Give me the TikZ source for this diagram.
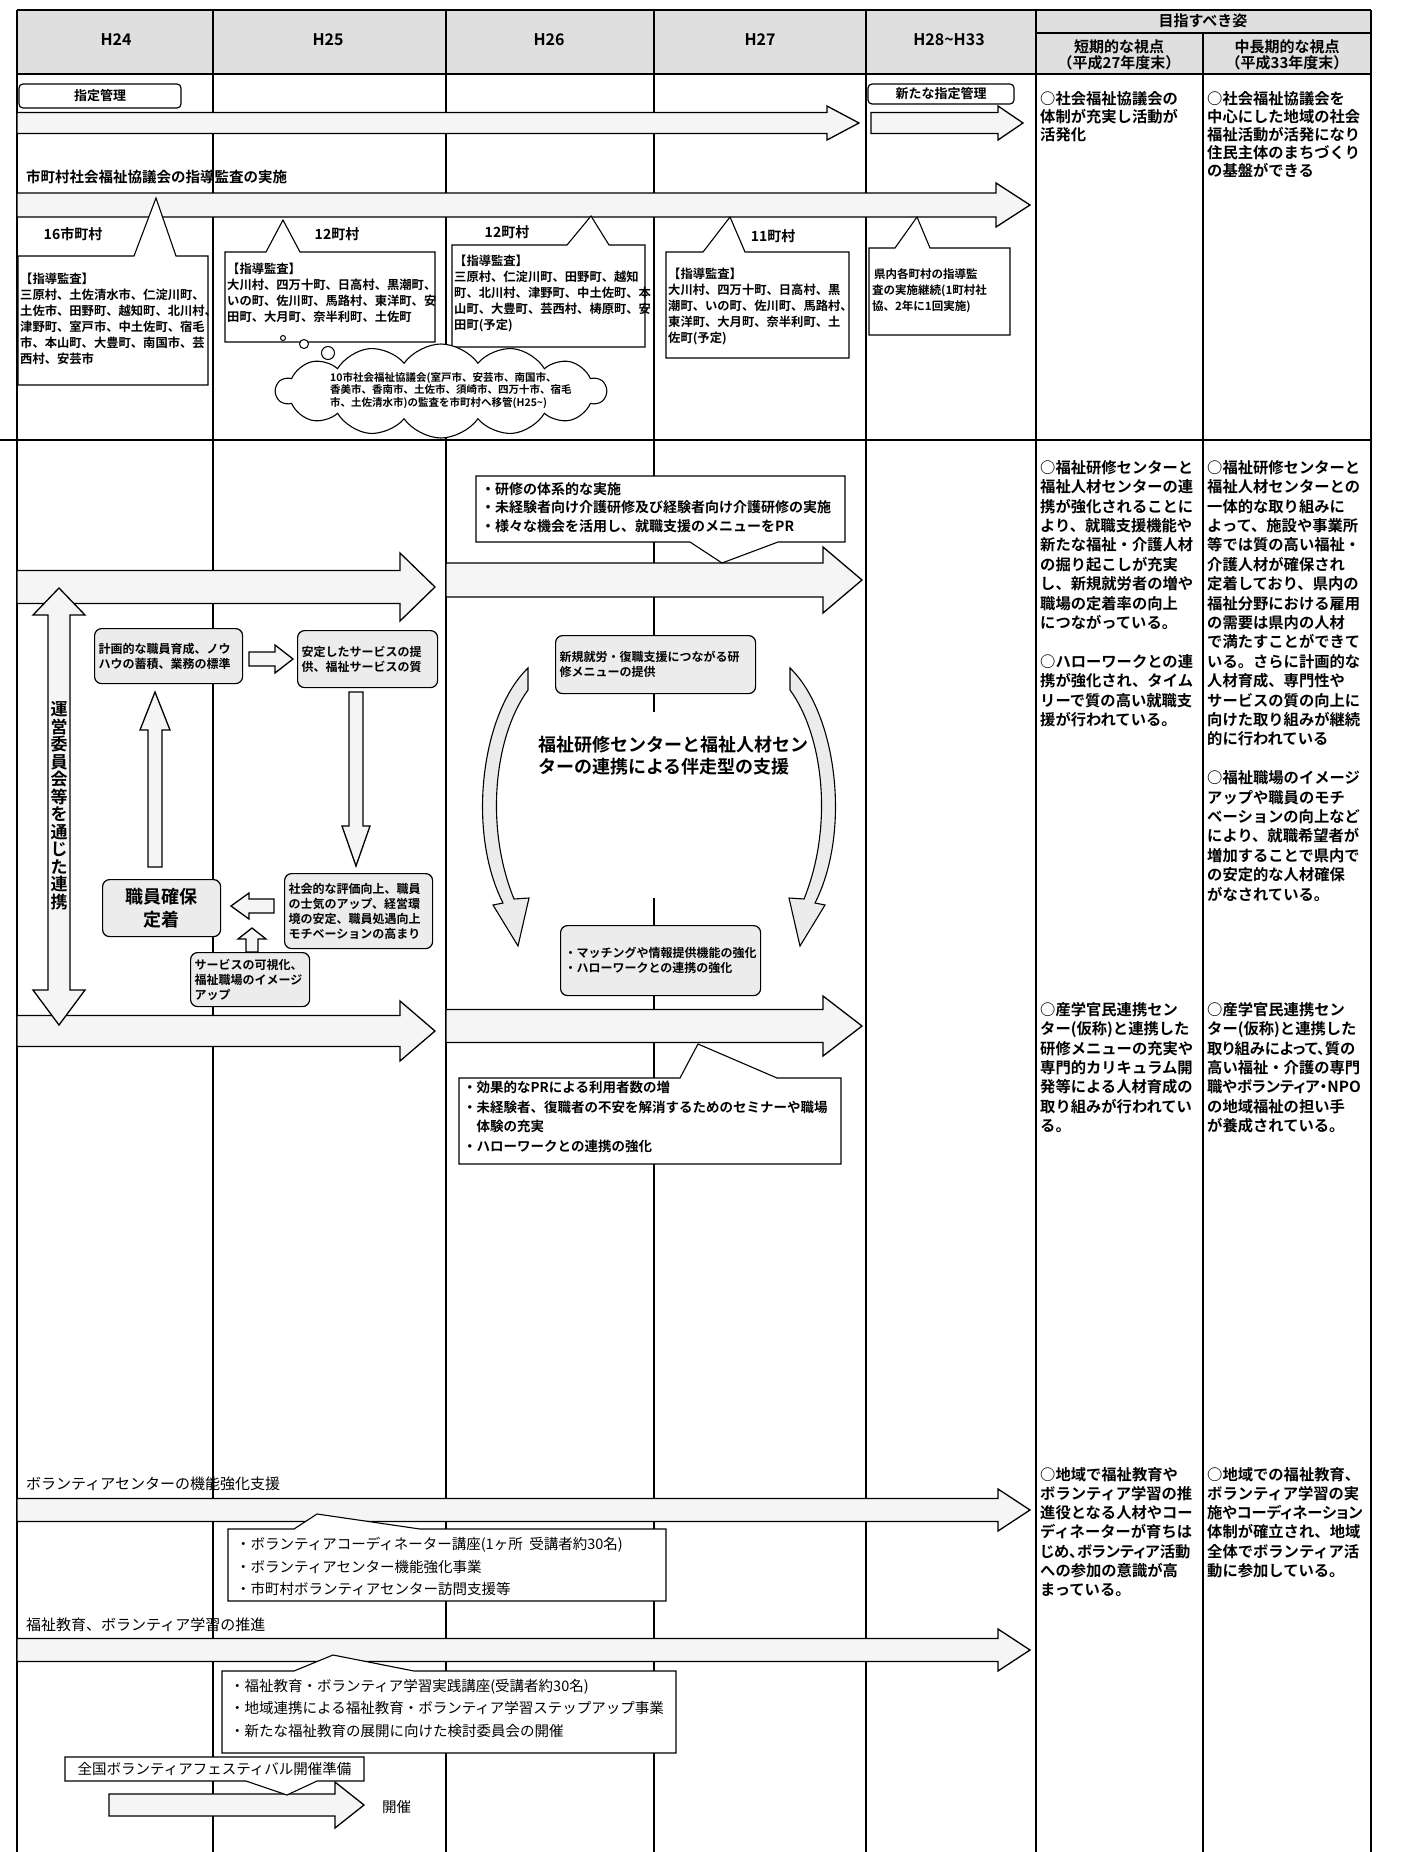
\documentclass[tikz,border=0pt]{standalone}
\usepackage{fontspec}
\setmainfont{Noto Sans CJK JP}[BoldFont={Noto Sans CJK JP Bold}]
\usetikzlibrary{shapes.symbols}
\newcommand\fs[2]{\fontsize{#1}{#2}\selectfont}
\newcommand\nar[1]{{\addfontfeature{RawFeature=+palt}#1}}
% horizontal block arrow: x-start, x-headbase, x-tip, y-centre, body half, head half
\newcommand\bkR[6]{\draw[barrow] ({#1},{#4-#5}) -- ({#2},{#4-#5}) -- ({#2},{#4-#6}) -- ({#3},{#4}) -- ({#2},{#4+#6}) -- ({#2},{#4+#5}) -- ({#1},{#4+#5}) -- cycle;}
% vertical block arrow: y-start, y-headbase, y-tip, x-centre, body half, head half
\newcommand\bkV[6]{\draw[barrow] ({#4-#5},{#1}) -- ({#4-#5},{#2}) -- ({#4-#6},{#2}) -- ({#4},{#3}) -- ({#4+#6},{#2}) -- ({#4+#5},{#2}) -- ({#4+#5},{#1}) -- cycle;}
% callout with pointer on top / bottom: x1,y1,x2,y2, base1, tipx, tipy, base2
\newcommand\coT[8]{\draw[callout] ({#1},{#2}) -- ({#5},{#2}) -- ({#6},{#7}) -- ({#8},{#2}) -- ({#3},{#2}) -- ({#3},{#4}) -- ({#1},{#4}) -- cycle;}
\newcommand\coB[8]{\draw[callout] ({#1},{#2}) -- ({#3},{#2}) -- ({#3},{#4}) -- ({#8},{#4}) -- ({#6},{#7}) -- ({#5},{#4}) -- ({#1},{#4}) -- cycle;}
\tikzset{
  tline/.style={line width=1.1pt},
  tborder/.style={line width=2pt},
  barrow/.style={draw, line width=1.3pt, fill=gray!8, line join=miter},
  callout/.style={draw, line width=1.1pt, fill=white, line join=miter},
  rbox/.style={draw, line width=1.2pt, rounded corners=7pt, fill=gray!15, anchor=north west, align=left, inner sep=4pt, font={\fs{12}{15}\bfseries}},
  txt/.style={anchor=north west, align=left, inner sep=0pt},
  hdr/.style={inner sep=0pt, font={\fs{16}{17}\bfseries}, align=center},
  goal/.style={txt, font={\fs{15.3}{19.4}\bfseries}},
  ctxt/.style={txt, font={\fs{12.3}{16}\bfseries}},
  lbl/.style={inner sep=0pt, font={\fs{14}{16}\bfseries}},
  thin/.style={txt, font={\fs{14.5}{22.5}}},
}
\begin{document}
\begin{tikzpicture}[x=1pt,y=-1pt]
\useasboundingbox (0,0) rectangle (1406,1852);
\fill[white] (0,0) rectangle (1406,1852);
% ---------------- table ----------------
\fill[gray!25] (17,10) rectangle (1371,74);
\foreach \xx in {213,446,654,866} {\draw[tline] (\xx,10) -- (\xx,1852);}
\draw[tline] (1203,33) -- (1203,1852);
\draw[tborder] (1036,10) -- (1036,1852);
\draw[tborder] (17,10) -- (17,1852);
\draw[tborder] (1371,10) -- (1371,1852);
\draw[tborder] (17,10) -- (1371,10);
\draw[tline] (1036,33) -- (1371,33);
\draw[tborder] (17,74) -- (1371,74);
\draw[tline] (0,440) -- (1371,440);
% header
\node[hdr] (h24) at (116,40) {H24};
\node[hdr] (h25) at (328,40) {H25};
\node[hdr] (h26) at (549,40) {H26};
\node[hdr] (h27) at (760,40) {H27};
\node[hdr] (h28) at (949,40) {H28{\char"7E}H33};
\node[hdr, font={\fs{15}{17}\bfseries}] (goalh) at (1203,21) {目指すべき姿};
\node[hdr, font={\fs{15}{16.5}\bfseries}] (shortv) at (1119,55) {短期的な視点\\（平成27年度末）};
\node[hdr, font={\fs{15}{16.5}\bfseries}] (longv) at (1287,55) {中長期的な視点\\（平成33年度末）};
% ---------------- section 1 ----------------
\node[draw, line width=1.2pt, rounded corners=4pt, minimum width=162pt, minimum height=24pt, inner sep=0pt, font={\fs{13}{15}\bfseries}] (shitei) at (100,96) {指定管理};
\node[draw, line width=1.2pt, rounded corners=4pt, minimum width=146pt, minimum height=20pt, inner sep=0pt, font={\fs{13}{15}\bfseries}] (shitei2) at (941,94) {新たな指定管理};
\bkR{17}{827}{859}{123}{10.5}{17}
\bkR{871}{998}{1023}{123}{10.5}{17}
\node[lbl, anchor=west, font={\fs{14.5}{16}\bfseries}] (kansa) at (26,177) {市町村社会福祉協議会の指導監査の実施};
\bkR{17}{996}{1030}{205}{12}{22}
% callouts
\coT{18}{256}{208}{385}{134}{156}{198}{176}
\coT{225}{252}{435}{342}{266}{283}{220}{300}
\coT{452}{245}{645}{347}{567}{591}{216}{609}
\coT{666}{252}{849}{358}{703}{730}{217}{745}
\coT{869}{248}{1010}{335}{895}{917}{217}{930}
\node[lbl] (n16) at (73,234) {16市町村};
\node[lbl] (n12a) at (337,234) {12町村};
\node[lbl] (n12b) at (507,232) {12町村};
\node[lbl] (n11) at (773,236) {11町村};
\node[ctxt] (c1t) at (20,273) {【指導監査】\\三原村、土佐清水市、仁淀川町、\\土佐市、田野町、越知町、北川村、\\津野町、室戸市、中土佐町、宿毛\\市、本山町、大豊町、南国市、芸\\西村、安芸市};
\node[ctxt] (c2t) at (227,263) {【指導監査】\\大川村、四万十町、日高村、黒潮町、\\いの町、佐川町、馬路村、東洋町、安\\田町、大月町、奈半利町、土佐町};
\node[ctxt] (c3t) at (454,255) {【指導監査】\\三原村、仁淀川町、田野町、越知\\町、北川村、津野町、中土佐町、本\\山町、大豊町、芸西村、梼原町、安\\田町(予定)};
\node[ctxt] (c4t) at (668,268) {【指導監査】\\大川村、四万十町、日高村、黒\\潮町、いの町、佐川町、馬路村、\\東洋町、大月町、奈半利町、土\\佐町(予定)};
\node[ctxt, font={\fs{11.5}{16}\bfseries}] (c5t) at (872,268) {\,県内各町村の指導監\\査の実施継続(1町村社\\協、2年に1回実施)};
% thought bubble + cloud
\draw[line width=1pt, fill=white] (283,338) circle (2.5pt);
\draw[line width=1pt, fill=white] (304,344) circle (4.5pt);
\draw[line width=1pt, fill=white] (328,353) circle (6.5pt);
\node[cloud, draw, line width=1.1pt, fill=white, cloud puffs=14, cloud puff arc=110, aspect=3.6, minimum width=330pt, minimum height=94pt, inner sep=0pt] (cloud) at (441,391) {};
\node[txt, font={\fs{10.5}{12.8}\bfseries}] (cloudt) at (330,372) {10市社会福祉協議会(室戸市、安芸市、南国市、\\香美市、香南市、土佐市、須崎市、四万十市、宿毛\\市、土佐清水市)の監査を市町村へ移管(H25{\char"7E})};
% goals section 1
\node[goal, font={\fs{15.3}{18}\bfseries}] (g1s) at (1040,91) {○社会福祉協議会の\\体制が充実し活動が\\活発化};
\node[goal, font={\fs{15.3}{18}\bfseries}] (g1l) at (1207,91) {○社会福祉協議会を\\中心にした地域の社会\\福祉活動が活発になり\\住民主体のまちづくり\\の基盤ができる};
% ---------------- section 2 ----------------
\bkR{17}{400}{435}{587}{16.5}{34}
\bkR{446}{823}{862}{580}{17}{33}
\bkR{17}{400}{435}{1031}{15.5}{30}
\bkR{446}{823}{862}{1026}{16.5}{30}
\coB{476}{476}{845}{542}{690}{722}{563}{778}
\node[txt, font={\fs{14}{18.5}\bfseries}] (kenshu) at (481,482) {・研修の体系的な実施\\・未経験者向け介護研修及び経験者向け介護研修の実施\\・様々な機会を活用し、就職支援のメニューをPR};
\coT{459}{1078}{841}{1164}{680}{698}{1044}{777}
\node[txt, font={\fs{13.5}{19.5}\bfseries}] (koka) at (463,1081) {・効果的なPRによる利用者数の増\\・未経験者、復職者の不安を解消するためのセミナーや職場\\　体験の充実\\・ハローワークとの連携の強化};
% left cycle
\node[rbox, text width=140pt, minimum height=55pt] (keikaku) at (94,628) {計画的な職員育成、ノウ\\ハウの蓄積、業務の標準};
\node[rbox, text width=132pt, minimum height=57pt] (antei) at (297,630) {安定したサービスの提\\供、福祉サービスの質};
\bkR{249}{275}{293}{659}{7}{14}
\bkV{692}{826}{866}{356}{7}{14}
\bkV{867}{730}{692}{155}{7}{15}
\node[rbox, text width=110pt, minimum height=57pt, align=center, font={\fs{18}{23}\bfseries}] (kakuho) at (102,879) {職員確保\\定着};
\node[rbox, text width=140pt, minimum height=75pt] (shakai) at (284,873) {社会的な評価向上、職員\\の士気のアップ、経営環\\境の安定、職員処遇向上\\モチベーションの高まり};
\bkR{274}{249}{231}{906}{7}{13}
\bkV{952}{939}{928}{252}{6}{14}
\node[rbox, text width=111pt, minimum height=54pt] (kashika) at (190,952) {サービスの可視化、\\福祉職場のイメージ\\アップ};
% vertical double arrow
\draw[barrow] (48,615) -- (33,615) -- (59,588) -- (85,615) -- (70,615) -- (70,990) -- (85,990) -- (59,1025) -- (33,990) -- (48,990) -- cycle;
\node[inner sep=0pt, align=center, font={\fs{17}{17.5}\bfseries}] (unei) at (59,806) {運\\営\\委\\員\\会\\等\\を\\通\\じ\\た\\連\\携};
% right cycle
\fill[white] (528,712) rectangle (790,898);
\node[rbox, text width=192pt, minimum height=58pt] (shinki) at (555,635) {新規就労・復職支援につながる研\\修メニューの提供};
\node[rbox, text width=192pt, minimum height=70pt] (matching) at (560,925) {・マッチングや情報提供機能の強化\\・ハローワークとの連携の強化};
\node[txt, font={\fs{18}{22}\bfseries}] (renkei) at (538,736) {福祉研修センターと福祉人材セン\\ターの連携による伴走型の支援};
\draw[barrow, fill=gray!15, line width=1.1pt] (528,668) .. controls (482,712) and (466,830) .. (503,903) -- (493,905) -- (518,946) -- (529,898) -- (514,899) .. controls (484,825) and (495,735) .. (528,690) -- cycle;
\draw[barrow, fill=gray!15, line width=1.1pt] (790,668) .. controls (836,712) and (852,830) .. (815,903) -- (825,905) -- (800,946) -- (789,898) -- (804,899) .. controls (834,825) and (823,735) .. (790,690) -- cycle;
% goals section 2
\node[goal] (g2s) at (1040,460) {○福祉研修センターと\\福祉人材センターの連\\携が強化されることに\\より、就職支援機能や\\新たな福祉・介護人材\\の掘り起こしが充実\\し、新規就労者の増や\\職場の定着率の向上\\につながっている。\\[19.4pt]○ハローワークとの連\\携が強化され、タイム\\リーで質の高い就職支\\援が行われている。};
\node[goal] (g2l) at (1207,460) {○福祉研修センターと\\福祉人材センターとの\\一体的な取り組みに\\よって、施設や事業所\\等では質の高い福祉・\\介護人材が確保され\\定着しており、県内の\\福祉分野における雇用\\の需要は県内の人材\\で満たすことができて\\いる。さらに計画的な\\人材育成、専門性や\\サービスの質の向上に\\向けた取り組みが継続\\的に行われている\\[19.4pt]○福祉職場のイメージ\\アップや職員のモチ\\ベーションの向上など\\により、就職希望者が\\増加することで県内で\\の安定的な人材確保\\がなされている。};
\node[goal] (g3s) at (1040,1002) {○産学官民連携セン\\ター(仮称)と連携した\\研修メニューの充実や\\専門的カリキュラム開\\発等による人材育成の\\取り組みが行われてい\\る。};
\node[goal] (g3l) at (1207,1002) {○産学官民連携セン\\ター(仮称)と連携した\\\nar{取り組みによって、質の}\\高い福祉・介護の専門\\\nar{職やボランティア・NPO}\\の地域福祉の担い手\\が養成されている。};
% ---------------- section 3 ----------------
\node[inner sep=0pt, anchor=west, font={\fs{15}{16}}] (vlbl1) at (26,1484) {ボランティアセンターの機能強化支援};
\bkR{17}{998}{1030}{1510}{11.5}{21}
\coT{228}{1529}{666}{1601}{294}{317}{1514}{420}
\node[thin] (v1t) at (236,1537) {・ボランティアコーディネーター講座(1ヶ所\ \ 受講者約30名)\\・ボランティアセンター機能強化事業\\・市町村ボランティアセンター訪問支援等};
\node[inner sep=0pt, anchor=west, font={\fs{15}{16}}] (vlbl2) at (26,1625) {福祉教育、ボランティア学習の推進};
\bkR{17}{998}{1030}{1650}{11.5}{21}
\coT{222}{1671}{676}{1753}{294}{333}{1655}{414}
\node[thin] (v2t) at (230,1679) {・福祉教育・ボランティア学習実践講座(受講者約30名)\\・地域連携による福祉教育・ボランティア学習ステップアップ事業\\・新たな福祉教育の展開に向けた検討委員会の開催};
\bkR{109}{335}{364}{1805}{11}{23}
\coB{65}{1757}{364}{1781}{246}{287}{1795}{317}
\node[inner sep=0pt, font={\fs{14.5}{16}}] (zenkoku) at (214.5,1769) {全国ボランティアフェスティバル開催準備};
\node[inner sep=0pt, anchor=west, font={\fs{14.5}{16}}] (kaisai) at (382,1807) {開催};
% goals section 3
\node[goal, font={\fs{15.3}{19.2}\bfseries}] (g4s) at (1040,1467) {○地域で福祉教育や\\ボランティア学習の推\\進役となる人材やコー\\ディネーターが育ちは\\\nar{じめ、ボランティア活動}\\への参加の意識が高\\まっている。};
\node[goal, font={\fs{15.3}{19.2}\bfseries}] (g4l) at (1207,1467) {○地域での福祉教育、\\ボランティア学習の実\\\nar{施やコーディネーション}\\体制が確立され、地域\\全体でボランティア活\\動に参加している。};
\end{tikzpicture}
\end{document}
